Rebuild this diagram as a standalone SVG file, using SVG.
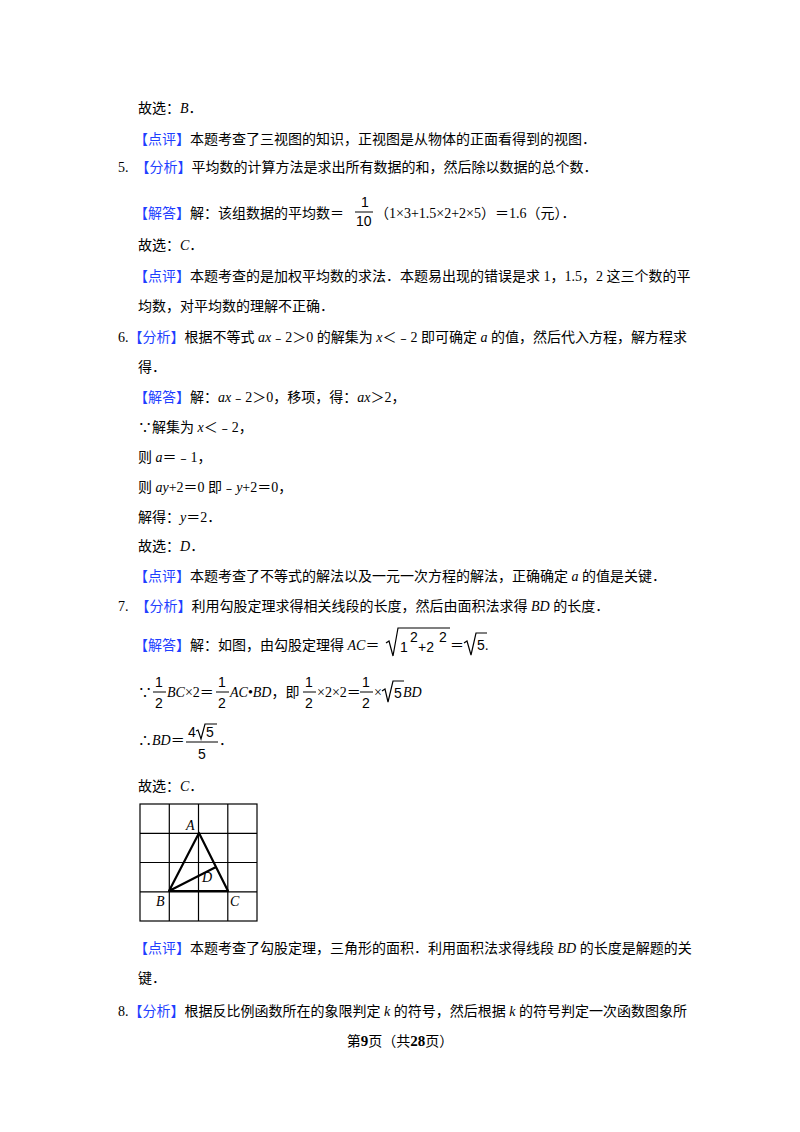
<svg xmlns="http://www.w3.org/2000/svg" width="800" height="1132" viewBox="0 0 800 1132">
<style>
text{font-family:"Liberation Serif","Noto Sans CJK SC",serif;font-size:14px;fill:#000}
.b{fill:#1f3fff}
.i{font-style:italic}
.s{font-family:"Liberation Sans","Noto Sans CJK SC",sans-serif}
.g{stroke:#000;stroke-width:1.2;fill:none}
.t{stroke:#000;stroke-width:2.2;fill:none;stroke-linejoin:round}
</style>
<rect width="800" height="1132" fill="#fff"/>
<text x="138" y="113">故选：<tspan class="i">B</tspan>．</text>
<text x="134" y="144"><tspan class="b">【点评】</tspan>本题考查了三视图的知识，正视图是从物体的正面看得到的视图．</text>
<text x="118" y="172">5.　<tspan class="b">【分析】</tspan>平均数的计算方法是求出所有数据的和，然后除以数据的总个数．</text>
<text x="134" y="218"><tspan class="b">【解答】</tspan>解：该组数据的平均数＝</text>
<text class="s" x="361" y="207" font-size="16">1</text>
<line x1="355" y1="212" x2="373" y2="212" stroke="#000"/>
<text class="s" x="356" y="226" font-size="16">10</text>
<text x="375" y="218">（1×3+1.5×2+2×5）＝1.6（元）．</text>
<text x="138" y="250">故选：<tspan class="i">C</tspan>．</text>
<text x="134" y="281"><tspan class="b">【点评】</tspan>本题考查的是加权平均数的求法．本题易出现的错误是求 1，1.5，2 这三个数的平</text>
<text x="138" y="311">均数，对平均数的理解不正确．</text>
<text x="118" y="342">6.<tspan class="b">【分析】</tspan>根据不等式 <tspan class="i">ax</tspan>﹣2＞0 的解集为 <tspan class="i">x</tspan>＜﹣2 即可确定 <tspan class="i">a</tspan> 的值，然后代入方程，解方程求</text>
<text x="138" y="372">得．</text>
<text x="134" y="402"><tspan class="b">【解答】</tspan>解：<tspan class="i">ax</tspan>﹣2＞0，移项，得：<tspan class="i">ax</tspan>＞2，</text>
<text x="138" y="432">∵解集为 <tspan class="i">x</tspan>＜﹣2，</text>
<text x="138" y="462">则 <tspan class="i">a</tspan>＝﹣1，</text>
<text x="138" y="492">则 <tspan class="i">ay</tspan>+2＝0 即﹣<tspan class="i">y</tspan>+2＝0，</text>
<text x="138" y="522">解得：<tspan class="i">y</tspan>＝2．</text>
<text x="138" y="551">故选：<tspan class="i">D</tspan>．</text>
<text x="134" y="581"><tspan class="b">【点评】</tspan>本题考查了不等式的解法以及一元一次方程的解法，正确确定 <tspan class="i">a</tspan> 的值是关键．</text>
<text x="118" y="611">7.　<tspan class="b">【分析】</tspan>利用勾股定理求得相关线段的长度，然后由面积法求得 <tspan class="i">BD</tspan> 的长度．</text>
<text x="134" y="650"><tspan class="b">【解答】</tspan>解：如图，由勾股定理得 <tspan class="i">AC</tspan>＝</text>
<path d="M386,643 L389,641 L393,656 L398,628 L450,628" class="g" stroke-width="1"/>
<text class="s" x="400" y="652" font-size="15">1</text><text class="s" x="410" y="642" font-size="11">2</text>
<text class="s" x="418" y="652" font-size="15">+2</text><text class="s" x="439" y="642" font-size="11">2</text>
<text x="450" y="650">＝</text>
<path d="M464,643 L467,641 L471,655 L476,633 L487,633" class="g" stroke-width="1"/>
<text class="s" x="477" y="650" font-size="15">5.</text>
<text x="138" y="697">∵</text>
<text class="s" x="155" y="687" font-size="16">1</text><line x1="153" y1="692" x2="166" y2="692" stroke="#000"/><text class="s" x="155" y="708" font-size="16">2</text>
<text x="167" y="697"><tspan class="i">BC</tspan>×2＝</text>
<text class="s" x="218" y="687" font-size="16">1</text><line x1="216" y1="692" x2="229" y2="692" stroke="#000"/><text class="s" x="218" y="708" font-size="16">2</text>
<text x="230" y="697"><tspan class="i">AC</tspan>•<tspan class="i">BD</tspan>，即</text>
<text class="s" x="305" y="687" font-size="16">1</text><line x1="303" y1="692" x2="316" y2="692" stroke="#000"/><text class="s" x="305" y="708" font-size="16">2</text>
<text x="317" y="697">×2×2＝</text>
<text class="s" x="362" y="687" font-size="16">1</text><line x1="360" y1="692" x2="373" y2="692" stroke="#000"/><text class="s" x="362" y="708" font-size="16">2</text>
<text x="374" y="697">×</text>
<path d="M382,691 L385,689 L388,702 L393,681 L404,681" class="g" stroke-width="1"/>
<text class="s" x="394" y="698" font-size="15">5</text>
<text x="403" y="697" class="i">BD</text>
<text x="138" y="745">∴<tspan class="i">BD</tspan>＝</text>
<text class="s" x="188" y="737" font-size="15">4</text>
<path d="M196,731 L198,730 L201,739 L205,724 L217,724" class="g" stroke-width="1"/>
<text class="s" x="206" y="737" font-size="15">5</text>
<line x1="186" y1="742" x2="218" y2="742" stroke="#000"/>
<text class="s" x="198" y="759" font-size="15">5</text>
<text x="219" y="745">．</text>
<text x="138" y="791">故选：<tspan class="i">C</tspan>．</text>
<g id="figure">
<rect x="140" y="804" width="117" height="117" class="g"/>
<path d="M169.3,804V921M198.5,804V921M227.8,804V921M140,833.3H257M140,862.5H257M140,891.8H257" class="g"/>
<path d="M199,833 L169,891 L228,891 Z M169,891 L216,867" class="t"/>
<text x="186" y="830" class="i" font-size="13">A</text>
<text x="202" y="882" class="i" font-size="13">D</text>
<text x="156" y="906" class="i" font-size="13">B</text>
<text x="230" y="906" class="i" font-size="13">C</text>
</g>
<text x="134" y="953"><tspan class="b">【点评】</tspan>本题考查了勾股定理，三角形的面积．利用面积法求得线段 <tspan class="i">BD</tspan> 的长度是解题的关</text>
<text x="138" y="983">键．</text>
<text x="118" y="1016">8.<tspan class="b">【分析】</tspan>根据反比例函数所在的象限判定 <tspan class="i">k</tspan> 的符号，然后根据 <tspan class="i">k</tspan> 的符号判定一次函数图象所</text>
<text x="400" y="1046" text-anchor="middle" font-size="13">第<tspan font-weight="bold" font-size="15">9</tspan>页（共<tspan font-weight="bold" font-size="15">28</tspan>页）</text>
</svg>
